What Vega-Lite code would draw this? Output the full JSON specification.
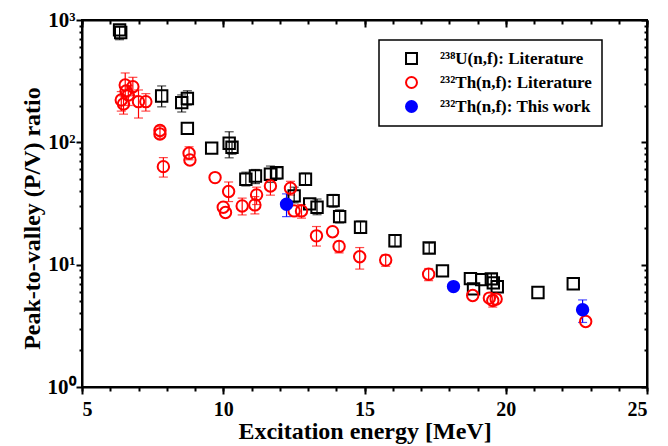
{
  "$schema": "https://vega.github.io/schema/vega-lite/v6.json",
  "width": 565,
  "height": 367,
  "autosize": {"type": "none"},
  "padding": {"left": 82, "top": 20, "right": 21, "bottom": 59},
  "background": "white",
  "config": {
    "view": {"stroke": "black", "strokeWidth": 2},
    "font": "Liberation Serif",
    "axis": {"domainColor": "black", "domainWidth": 2, "tickColor": "black", "tickWidth": 2, "grid": false, "labelFont": "Liberation Serif", "labelFontWeight": "bold", "labelColor": "black", "titleFont": "Liberation Serif", "titleFontWeight": "bold", "titleColor": "black"},
    "legend": {"labelFont": "Liberation Serif", "labelFontWeight": "bold", "labelFontSize": 17, "labelColor": "black", "labelOffset": 20, "rowPadding": 5, "padding": 10, "symbolOffset": 14, "strokeColor": "black", "strokeWidth": 1.5, "fillColor": "white", "symbolStrokeWidth": 2, "symbolSize": 120}
  },
  "data": {"values": [
    {"series": "²³⁸U(n,f): Literature", "x": 6.33, "y": 830, "lo": 690, "hi": 890},
    {"series": "²³⁸U(n,f): Literature", "x": 6.37, "y": 790},
    {"series": "²³⁸U(n,f): Literature", "x": 7.82, "y": 239, "lo": 195, "hi": 289},
    {"series": "²³⁸U(n,f): Literature", "x": 8.53, "y": 211, "lo": 177, "hi": 244},
    {"series": "²³⁸U(n,f): Literature", "x": 8.73, "y": 228, "lo": 202, "hi": 264},
    {"series": "²³⁸U(n,f): Literature", "x": 8.73, "y": 130},
    {"series": "²³⁸U(n,f): Literature", "x": 9.59, "y": 89.6},
    {"series": "²³⁸U(n,f): Literature", "x": 10.21, "y": 98.4, "lo": 74.7, "hi": 122},
    {"series": "²³⁸U(n,f): Literature", "x": 10.31, "y": 91.2, "lo": 80, "hi": 100},
    {"series": "²³⁸U(n,f): Literature", "x": 10.8, "y": 49.9, "lo": 44, "hi": 57},
    {"series": "²³⁸U(n,f): Literature", "x": 11.14, "y": 53.1, "lo": 46, "hi": 60},
    {"series": "²³⁸U(n,f): Literature", "x": 11.67, "y": 54.8, "lo": 47, "hi": 64},
    {"series": "²³⁸U(n,f): Literature", "x": 11.9, "y": 56.4, "lo": 50, "hi": 62},
    {"series": "²³⁸U(n,f): Literature", "x": 12.91, "y": 49.9, "lo": 45, "hi": 56},
    {"series": "²³⁸U(n,f): Literature", "x": 12.51, "y": 36.5, "lo": 32, "hi": 43},
    {"series": "²³⁸U(n,f): Literature", "x": 13.06, "y": 31.4},
    {"series": "²³⁸U(n,f): Literature", "x": 13.32, "y": 29.5, "lo": 25.6, "hi": 34.4},
    {"series": "²³⁸U(n,f): Literature", "x": 13.89, "y": 33.4, "lo": 29.5, "hi": 37.5},
    {"series": "²³⁸U(n,f): Literature", "x": 14.12, "y": 24.7, "lo": 22, "hi": 28},
    {"series": "²³⁸U(n,f): Literature", "x": 14.86, "y": 20.2, "lo": 18, "hi": 22.7},
    {"series": "²³⁸U(n,f): Literature", "x": 16.08, "y": 15.7, "lo": 14, "hi": 17.5},
    {"series": "²³⁸U(n,f): Literature", "x": 17.29, "y": 13.7, "lo": 12.4, "hi": 15},
    {"series": "²³⁸U(n,f): Literature", "x": 17.76, "y": 8.89},
    {"series": "²³⁸U(n,f): Literature", "x": 18.75, "y": 7.69},
    {"series": "²³⁸U(n,f): Literature", "x": 18.86, "y": 6.34},
    {"series": "²³⁸U(n,f): Literature", "x": 19.15, "y": 7.55},
    {"series": "²³⁸U(n,f): Literature", "x": 19.49, "y": 7.65, "lo": 6.9, "hi": 8.4},
    {"series": "²³⁸U(n,f): Literature", "x": 19.56, "y": 7.1},
    {"series": "²³⁸U(n,f): Literature", "x": 19.7, "y": 6.59},
    {"series": "²³⁸U(n,f): Literature", "x": 21.14, "y": 5.92},
    {"series": "²³⁸U(n,f): Literature", "x": 22.39, "y": 6.98},
    {"series": "²³²Th(n,f): Literature", "x": 7.76, "y": 125, "lo": 108, "hi": 135},
    {"series": "²³²Th(n,f): Literature", "x": 7.76, "y": 117},
    {"series": "²³²Th(n,f): Literature", "x": 6.53, "y": 294, "lo": 235, "hi": 369},
    {"series": "²³²Th(n,f): Literature", "x": 6.8, "y": 285, "lo": 240, "hi": 340},
    {"series": "²³²Th(n,f): Literature", "x": 6.39, "y": 222, "lo": 180, "hi": 260},
    {"series": "²³²Th(n,f): Literature", "x": 6.47, "y": 206, "lo": 170, "hi": 240},
    {"series": "²³²Th(n,f): Literature", "x": 6.64, "y": 244, "lo": 200, "hi": 290},
    {"series": "²³²Th(n,f): Literature", "x": 6.56, "y": 263},
    {"series": "²³²Th(n,f): Literature", "x": 7.0, "y": 215, "lo": 158, "hi": 268},
    {"series": "²³²Th(n,f): Literature", "x": 7.26, "y": 215, "lo": 180, "hi": 250},
    {"series": "²³²Th(n,f): Literature", "x": 7.88, "y": 63.3, "lo": 52, "hi": 75},
    {"series": "²³²Th(n,f): Literature", "x": 8.79, "y": 81.5, "lo": 72, "hi": 92},
    {"series": "²³²Th(n,f): Literature", "x": 8.82, "y": 71.8},
    {"series": "²³²Th(n,f): Literature", "x": 9.71, "y": 51.5},
    {"series": "²³²Th(n,f): Literature", "x": 10.19, "y": 39.6, "lo": 32.8, "hi": 47.4},
    {"series": "²³²Th(n,f): Literature", "x": 10.0, "y": 29.5},
    {"series": "²³²Th(n,f): Literature", "x": 10.08, "y": 26.7},
    {"series": "²³²Th(n,f): Literature", "x": 10.67, "y": 30.2, "lo": 25.5, "hi": 35},
    {"series": "²³²Th(n,f): Literature", "x": 11.12, "y": 30.8, "lo": 26, "hi": 36},
    {"series": "²³²Th(n,f): Literature", "x": 11.18, "y": 37.2, "lo": 31, "hi": 43},
    {"series": "²³²Th(n,f): Literature", "x": 11.67, "y": 44.0, "lo": 37, "hi": 50},
    {"series": "²³²Th(n,f): Literature", "x": 12.38, "y": 42.2, "lo": 37, "hi": 48},
    {"series": "²³²Th(n,f): Literature", "x": 12.51, "y": 27.5},
    {"series": "²³²Th(n,f): Literature", "x": 12.77, "y": 27.5, "lo": 24, "hi": 31},
    {"series": "²³²Th(n,f): Literature", "x": 13.3, "y": 17.2, "lo": 14.2, "hi": 20.5},
    {"series": "²³²Th(n,f): Literature", "x": 13.87, "y": 18.6},
    {"series": "²³²Th(n,f): Literature", "x": 14.1, "y": 14.1, "lo": 12.5, "hi": 15.5},
    {"series": "²³²Th(n,f): Literature", "x": 14.83, "y": 11.6, "lo": 9.2, "hi": 13.8},
    {"series": "²³²Th(n,f): Literature", "x": 15.75, "y": 10.9, "lo": 9.7, "hi": 12},
    {"series": "²³²Th(n,f): Literature", "x": 17.27, "y": 8.36, "lo": 7.4, "hi": 9.3},
    {"series": "²³²Th(n,f): Literature", "x": 18.83, "y": 5.6},
    {"series": "²³²Th(n,f): Literature", "x": 19.42, "y": 5.33},
    {"series": "²³²Th(n,f): Literature", "x": 19.54, "y": 5.09, "lo": 4.5, "hi": 5.6},
    {"series": "²³²Th(n,f): Literature", "x": 19.66, "y": 5.23},
    {"series": "²³²Th(n,f): Literature", "x": 22.83, "y": 3.43},
    {"series": "²³²Th(n,f): This work", "x": 12.24, "y": 31.2, "lo": 24.7, "hi": 37.9},
    {"series": "²³²Th(n,f): This work", "x": 18.15, "y": 6.62},
    {"series": "²³²Th(n,f): This work", "x": 22.72, "y": 4.28, "lo": 3.37, "hi": 5.15}
  ]},
  "resolve": {"axis": {"x": "independent", "y": "independent"}},
  "layer": [
    {
      "transform": [{"filter": "isValid(datum.lo)"}],
      "mark": {"type": "errorbar", "ticks": {"size": 9, "thickness": 1.2}, "rule": {"strokeWidth": 1.2}},
      "encoding": {
        "x": {"field": "x", "type": "quantitative", "scale": {"domain": [5, 25], "nice": false, "zero": false}, "axis": {"orient": "bottom", "values": [5, 10, 15, 20, 25], "tickSize": 7, "labelFontSize": 20, "labelPadding": 5, "title": "Excitation energy [MeV]", "titleFontSize": 24, "titlePadding": 0}},
        "y": {"field": "lo", "type": "quantitative", "scale": {"type": "log", "domain": [1, 1000], "nice": false}, "axis": {"orient": "left", "values": [1, 10, 100, 1000], "tickSize": 6, "labelFontSize": 21, "labelPadding": 1, "labelExpr": "'10' + (datum.value == 1 ? '⁰' : datum.value == 10 ? '¹' : datum.value == 100 ? '²' : '³')", "title": "Peak-to-valley (P/V) ratio", "titleFontSize": 24, "titlePadding": 3, "titleY": 198}},
        "y2": {"field": "hi"},
        "color": {"field": "series", "type": "nominal", "scale": {"domain": ["²³⁸U(n,f): Literature", "²³²Th(n,f): Literature", "²³²Th(n,f): This work"], "range": ["black", "red", "blue"]}, "legend": {"title": null, "orient": "none", "legendX": 297, "legendY": 20, "encode": {"symbols": {"update": {"fillOpacity": {"signal": "datum.value === '²³²Th(n,f): This work' ? 1 : 0"}, "opacity": {"value": 1}}}}}}
      }
    },
    {
      "mark": {"type": "point", "strokeWidth": 2, "size": 130, "opacity": 1},
      "encoding": {
        "x": {"field": "x", "type": "quantitative", "scale": {"domain": [5, 25], "nice": false, "zero": false}, "axis": {"orient": "bottom", "values": [5, 6, 7, 8, 9, 10, 11, 12, 13, 14, 15, 16, 17, 18, 19, 20, 21, 22, 23, 24, 25], "tickSize": 4, "labels": false, "domain": false, "title": null}},
        "y": {"field": "y", "type": "quantitative", "scale": {"type": "log", "domain": [1, 1000], "nice": false}, "axis": {"orient": "left", "values": [2, 3, 4, 5, 6, 7, 8, 9, 20, 30, 40, 50, 60, 70, 80, 90, 200, 300, 400, 500, 600, 700, 800, 900], "tickSize": 3, "labels": false, "domain": false, "title": null}},
        "color": {"field": "series", "type": "nominal", "scale": {"domain": ["²³⁸U(n,f): Literature", "²³²Th(n,f): Literature", "²³²Th(n,f): This work"], "range": ["black", "red", "blue"]}, "legend": {"title": null, "orient": "none", "legendX": 297, "legendY": 20, "encode": {"symbols": {"update": {"fillOpacity": {"signal": "datum.value === '²³²Th(n,f): This work' ? 1 : 0"}, "opacity": {"value": 1}}}}}},
        "shape": {"field": "series", "type": "nominal", "scale": {"domain": ["²³⁸U(n,f): Literature", "²³²Th(n,f): Literature", "²³²Th(n,f): This work"], "range": ["square", "circle", "circle"]}, "legend": {"title": null, "orient": "none", "legendX": 297, "legendY": 20}},
        "fill": {"field": "series", "type": "nominal", "scale": {"domain": ["²³⁸U(n,f): Literature", "²³²Th(n,f): Literature", "²³²Th(n,f): This work"], "range": ["transparent", "transparent", "blue"]}, "legend": {"title": null, "orient": "none", "legendX": 297, "legendY": 20}}
      }
    },
    {
      "mark": {"type": "point", "opacity": 0},
      "encoding": {
        "x": {"field": "x", "type": "quantitative", "scale": {"domain": [5, 25], "nice": false, "zero": false}, "axis": {"orient": "top", "values": [5, 10, 15, 20, 25], "tickSize": -7, "labels": false, "title": null}},
        "y": {"field": "y", "type": "quantitative", "scale": {"type": "log", "domain": [1, 1000], "nice": false}, "axis": {"orient": "right", "values": [1, 10, 100, 1000], "tickSize": -6, "labels": false, "title": null}}
      }
    },
    {
      "mark": {"type": "point", "opacity": 0},
      "encoding": {
        "x": {"field": "x", "type": "quantitative", "scale": {"domain": [5, 25], "nice": false, "zero": false}, "axis": {"orient": "top", "values": [5, 6, 7, 8, 9, 10, 11, 12, 13, 14, 15, 16, 17, 18, 19, 20, 21, 22, 23, 24, 25], "tickSize": -4, "labels": false, "domain": false, "title": null}},
        "y": {"field": "y", "type": "quantitative", "scale": {"type": "log", "domain": [1, 1000], "nice": false}, "axis": {"orient": "right", "values": [2, 3, 4, 5, 6, 7, 8, 9, 20, 30, 40, 50, 60, 70, 80, 90, 200, 300, 400, 500, 600, 700, 800, 900], "tickSize": -3, "labels": false, "domain": false, "title": null}}
      }
    }
  ]
}
